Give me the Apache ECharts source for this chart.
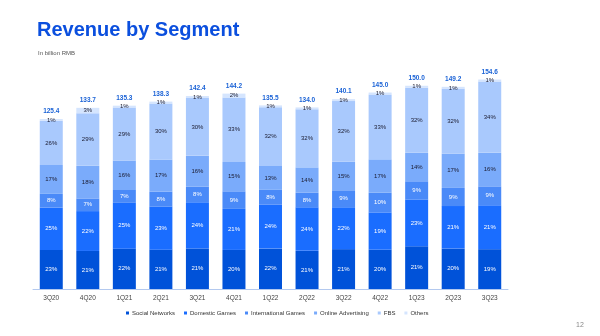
<!DOCTYPE html>
<html><head><meta charset="utf-8">
<script src="https://cdn.jsdelivr.net/npm/echarts@6/dist/echarts.min.js"></script>
<style>html,body{margin:0;padding:0;background:#fff}#c{width:600px;height:336px}</style>
</head><body><div id="c"></div>
<script>
const quarters = ['3Q20','4Q20','1Q21','2Q21','3Q21','4Q21','1Q22','2Q22','3Q22','4Q22','1Q23','2Q23','3Q23'];
const totals = [125.4,133.7,135.3,138.3,142.4,144.2,135.5,134.0,140.1,145.0,150.0,149.2,154.6];
const segmentNames = ['Social Networks','Domestic Games','International Games','Online Advertising','FBS','Others'];
const pctSocial   = [23,21,22,21,21,20,22,21,21,20,21,20,19];
const pctDomestic = [25,22,25,23,24,21,24,24,22,19,23,21,21];
const pctIntl     = [8,7,7,8,8,9,8,8,9,10,9,9,9];
const pctAds      = [17,18,16,17,16,15,13,14,15,17,14,17,16];
const pctFBS      = [26,29,29,30,30,33,32,32,32,33,32,32,34];
const pctOthers   = [1,3,1,1,1,2,1,1,1,1,1,1,1];

const pcts = [pctSocial,pctDomestic,pctIntl,pctAds,pctFBS,pctOthers];
const colors = ['#0052d9','#1a6dff','#4a8af8','#7aabfb','#a9c9fd','#d5e5fe'];
const labelColors = ['#ffffff','#ffffff','#ffffff','#1a1a2e','#1a1a2e','#1a1a2e'];

const series = segmentNames.map((name,i)=>({
  name, type:'bar', stack:'total', barWidth:23,
  itemStyle:{color:colors[i]},
  data: totals.map((t,j)=> t*pcts[i][j]/100),
  label:{show:true, position:'inside', fontSize:6, fontFamily:'Liberation Sans',
    color:labelColors[i], formatter:(p)=> pcts[i][p.dataIndex]+'%'}
}));
series.push({
  name:'Total', type:'bar', stack:'total', barWidth:23, silent:true,
  itemStyle:{color:'transparent'},
  data: totals.map(()=>0),
  label:{show:true, position:'top', distance:4, fontSize:6.5, fontWeight:'bold',
    fontFamily:'Liberation Sans', color:'#1a62d6',
    formatter:(p)=> totals[p.dataIndex].toFixed(1)}
});

const chart = echarts.init(document.getElementById('c'),null,{renderer:'canvas'});
chart.setOption({
  animation:false,
  color:colors,
  grid:{left:33,right:92,top:18,bottom:47},
  title:[
    {text:'Revenue by Segment', left:32, top:15,
     textStyle:{fontFamily:'Liberation Sans',fontWeight:'bold',fontSize:20,color:'#0b4fde'}},
    {text:'In billion RMB', left:33, top:45,
     textStyle:{fontFamily:'Liberation Sans',fontWeight:'normal',fontSize:6,color:'#555'}},
    {text:'12', left:571, top:317,
     textStyle:{fontFamily:'Liberation Sans',fontWeight:'normal',fontSize:7,color:'#888'}}
  ],
  legend:{data:segmentNames, left:121, top:305, itemWidth:3, itemHeight:3, itemGap:9,
    icon:'rect', textStyle:{fontSize:6, fontFamily:'Liberation Sans', color:'#333', padding:[0,0,0,-2]}},
  xAxis:{type:'category', data:quarters,
    axisLine:{lineStyle:{color:'#b3c9ef',width:1}}, axisTick:{show:false},
    axisLabel:{fontSize:6.5, fontFamily:'Liberation Sans', color:'#444', margin:6}},
  yAxis:{type:'value', min:0, max:200, show:false, splitLine:{show:false}},
  series
});
</script></body></html>
